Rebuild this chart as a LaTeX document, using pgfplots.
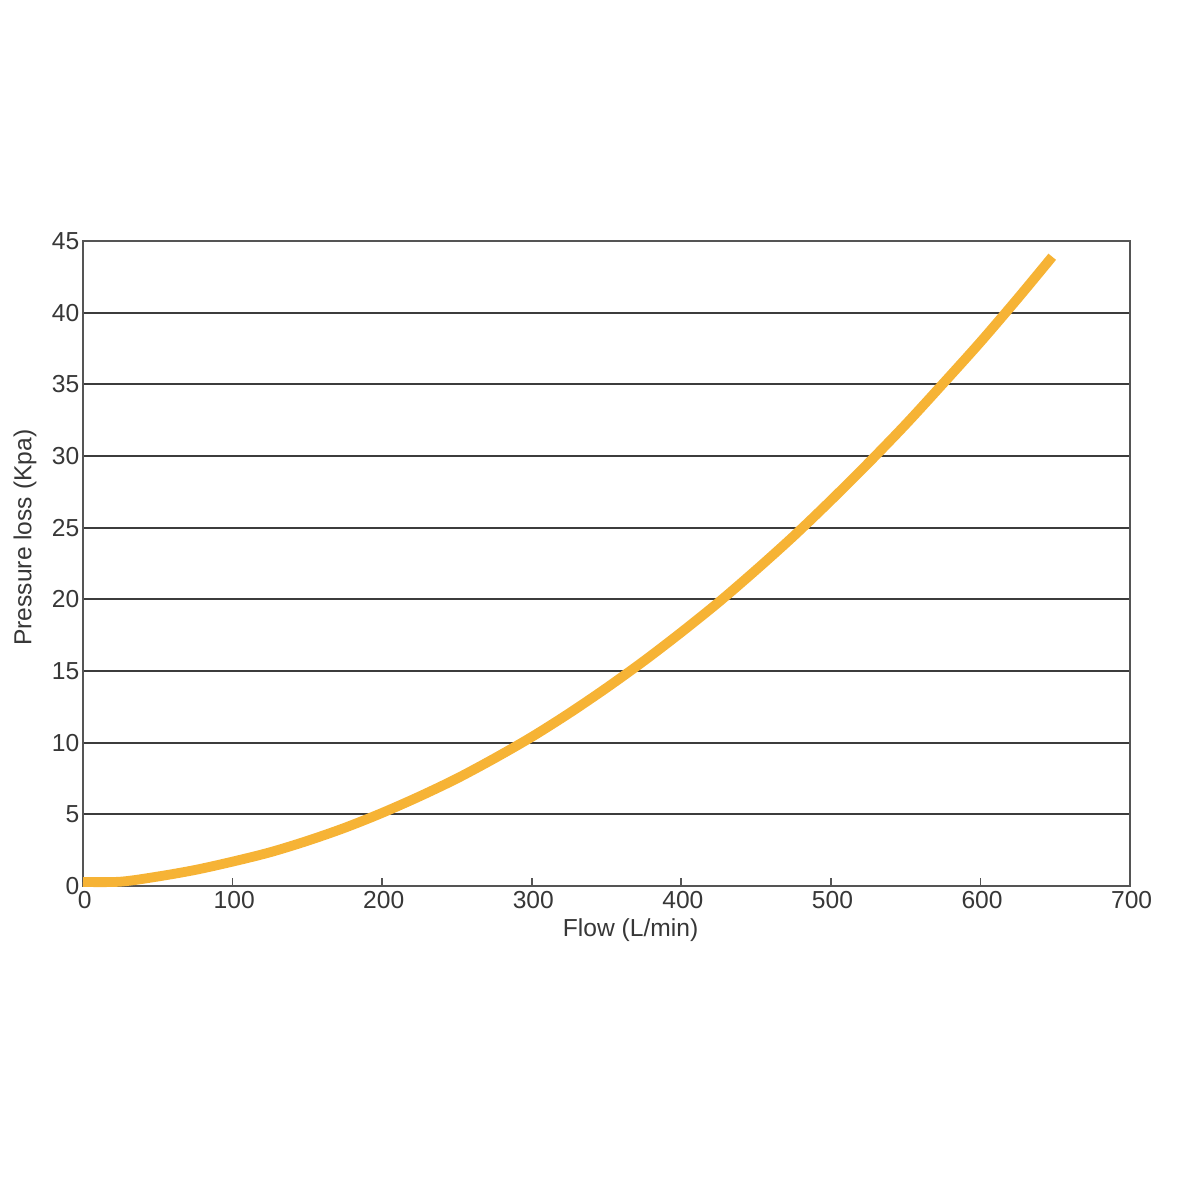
\documentclass[border=0pt]{standalone}
\usepackage{pgfplots}
\pgfplotsset{compat=1.18}
\usepackage{fontspec}
\setmainfont{Liberation Sans}
\definecolor{curve}{RGB}{246,179,53}
\definecolor{txt}{RGB}{55,55,55}
\definecolor{axl}{RGB}{85,85,85}
\definecolor{grd}{RGB}{60,60,60}
\begin{document}
\begin{tikzpicture}
\path[use as bounding box] (0,0) rectangle (300mm,300mm);
\begin{axis}[
  at={(20.75mm,78.5mm)}, anchor=south west,
  scale only axis, width=261.75mm, height=161.25mm,
  xmin=0, xmax=700, ymin=0, ymax=45,
  xtick={0,100,...,700}, ytick={0,5,...,45},
  /pgf/number format/assume math mode=true,
  axis line style={draw=axl, line width=0.5mm},
  ymajorgrids, major grid style={draw=grd, line width=0.45mm},
  xtick pos=bottom, ytick pos=left,
  tick align=inside,
  xtick style={draw=axl, line width=0.4mm},
  ytick style={draw=none},
  major tick length=2mm,
  tick label style={font=\fontsize{17.5}{20}\selectfont, text=txt},
  xticklabel style={yshift=-0.8mm, xshift=0.4mm, inner ysep=1pt},
  yticklabel style={xshift=0.3mm},
  xlabel={Flow (L/min)},
  ylabel={Pressure loss (Kpa)},
  label style={font=\fontsize{17.5}{20}\selectfont, text=txt, inner sep=1pt},
  xlabel style={at={(axis description cs:0.523,-0.068)}, anchor=center},
  ylabel style={at={(axis description cs:-0.0554,0.54)}, anchor=center, rotate=0},
  clip=false,
]
\addplot[curve, line width=2.45mm, smooth] table {
x y
0 0.28
25 0.3
50 0.66
75 1.12
100 1.7
125 2.35
150 3.15
175 4.06
200 5.1
225 6.25
250 7.5
275 8.9
300 10.4
325 12.05
350 13.82
375 15.7
400 17.7
425 19.8
450 22.05
475 24.4
500 26.9
525 29.5
550 32.2
575 35.05
600 37.95
625 41.0
648 43.9
};
\end{axis}
\end{tikzpicture}
\end{document}
